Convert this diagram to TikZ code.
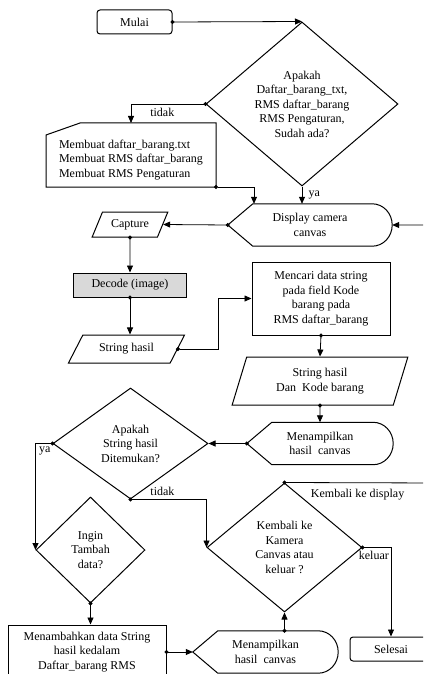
\documentclass[tikz,border=0pt]{standalone}
\usepackage{fontspec}
\setmainfont{Liberation Serif}
\usetikzlibrary{arrows.meta,shapes,positioning,calc}

% display: ujung kiri runcing, ujung kanan bulat
\newcommand{\bentukdisplay}[1]{%
\draw[line width=1pt] let \p1=(#1.north), \p2=(#1.south) in
  (#1.west) -- ([xshift=25pt]#1.north west) -- ([xshift=-20pt]#1.north east)
  arc[start angle=90, end angle=-90, x radius=20pt, y radius={(\y1-\y2)/2}]
  -- ([xshift=25pt]#1.south west) -- cycle;}

\begin{document}
\begin{tikzpicture} [x=1pt, y=1pt, font=\fontsize{12}{14.5}\selectfont,
  garis/.style={{Circle[length=4pt]}-{Triangle[length=7pt,width=6pt]}, shorten <=-2pt, line width=0.8pt},
  kaki/.style={-{Triangle[length=7pt,width=6pt]}, line width=0.8pt},
  terminal/.style={draw, rounded corners=3pt, line width=1pt},
  tanya/.style={diamond, draw, line width=1pt, inner sep=0pt, align=center},
  data/.style={trapezium, trapezium stretches=true, draw, line width=1pt, inner sep=1pt, align=center},
  proses/.style={rectangle, draw, line width=1pt, align=center}]
\useasboundingbox[fill=white] (0,0) rectangle (423,-674);
\clip (0,0) rectangle (423,-674);

\node[terminal, minimum width=75pt, minimum height=24pt] (mulai) at (134.5,-22) {Mulai};
\node[tanya, aspect=1.17, minimum width=192pt, minimum height=164pt] (cek1) at (302,-104)
  {Apakah\\Daftar\_barang\_txt,\\RMS daftar\_barang\\RMS Pengaturan,\\Sudah ada?};
% manual input
\node[align=left] (buat) at (131,-160)
  {Membuat daftar\_barang.txt\\Membuat RMS daftar\_barang\\Membuat RMS Pengaturan};
\coordinate (buat-atas) at ($(buat.center)+(0,37)$);
\coordinate (buat-se) at ($(buat.center)+(85,-27)$);
\draw[line width=1pt] ($(buat.center)+(-85,-27)$) -- ($(buat.center)+(-85,25)$)
  -- ($(buat.center)+(-51,37)$) -- ($(buat.center)+(85,37)$) -- (buat-se) -- cycle;
\node[align=center, minimum width=164pt, minimum height=42pt] (disp) at (310,-225) {Display camera\\canvas};
\bentukdisplay{disp}
\node[data, trapezium left angle=59, trapezium right angle=121, minimum width=76pt, minimum height=25pt] (capture) at (130,-224.5) {Capture};
\node[proses, fill=black!15, minimum width=113pt, minimum height=24pt] (decode) at (130,-285) {Decode (image)};
\node[data, trapezium left angle=54, trapezium right angle=126, minimum width=117pt, minimum height=28pt] (hasil) at (126.5,-349) {String hasil};
\node[proses, minimum width=138pt, minimum height=73pt] (cari) at (321,-298.5)
  {Mencari data string\\pada field Kode\\barang pada\\RMS daftar\_barang};
\node[data, trapezium left angle=72, trapezium right angle=108, minimum width=176pt, minimum height=48pt] (kode) at (320,-381)
  {String hasil\\Dan\ \ Kode barang};
\node[align=center, minimum width=146pt, minimum height=42pt] (tampil1) at (320,-443.5) {Menampilkan\\hasil\ \ canvas};
\bentukdisplay{tampil1}
\node[tanya, aspect=1.4, minimum width=155pt, minimum height=111pt] (cek2) at (130.5,-443.5)
  {Apakah\\String hasil\\Ditemukan?};
\node[tanya, minimum width=109pt, minimum height=106pt] (ingin) at (90.5,-550) {Ingin\\Tambah\\data?};
\node[tanya, aspect=1.2, minimum width=155pt, minimum height=129pt] (kembali) at (284.5,-547.5)
  {Kembali ke\\Kamera\\Canvas atau\\keluar ?};
\node[proses, minimum width=158pt, minimum height=54pt] (tambah) at (87,-652)
  {Menambahkan data String\\hasil kedalam\\Daftar\_barang RMS};
\node[align=center, minimum width=145pt, minimum height=42pt] (tampil2) at (265.5,-652) {Menampilkan\\hasil\ \ canvas};
\bentukdisplay{tampil2}
\node[terminal, minimum width=82pt, minimum height=24pt] (selesai) at (391,-649) {Selesai};
\coordinate (kanan) at (440,-483);

\draw[garis] (mulai.east) -- (cek1.north);
\draw[garis] (cek1.west) -| (buat-atas) node[pos=0.29, below] {tidak};
\draw[kaki] (cek1.south) -- (cek1.south |- disp.north) node[midway, right, xshift=3pt] {ya};
\draw[garis] (buat-se) -| ([xshift=-56pt]disp.north);
\draw[garis] (disp.west) -- (capture.east);
\draw[garis] (capture.south) -- (decode.north);
\draw[garis] (decode.south) -- (decode.south |- hasil.north);
\draw[garis] (hasil.east) -- ++(40pt,0) |- (cari.west);
\draw[garis] (cari.south) -- (kode.north);
\draw[garis] (kode.south) -- (tampil1.north);
\draw[garis] (tampil1.west) -- (cek2.east);
\draw[garis] (cek2.west) -| (ingin.west) node[pos=0.5, below right] {ya};
\draw[garis] (cek2.south) -| (kembali.west) node[pos=0.21, above] {tidak};
\draw[garis] (ingin.south) -- (ingin.south |- tambah.north);
\draw[garis] (tambah.east) -- (tampil2.west);
\draw[garis] (kembali.south |- tampil2.north) -- (kembali.south);
\draw[garis] (kembali.east) -| (selesai.north) node[pos=0.2, below] {keluar};
\draw[garis] (kembali.north) -- node[pos=0.47, below, yshift=-3pt] {Kembali ke display} (kanan) |- (disp.east);

\end{tikzpicture}
\end{document}
